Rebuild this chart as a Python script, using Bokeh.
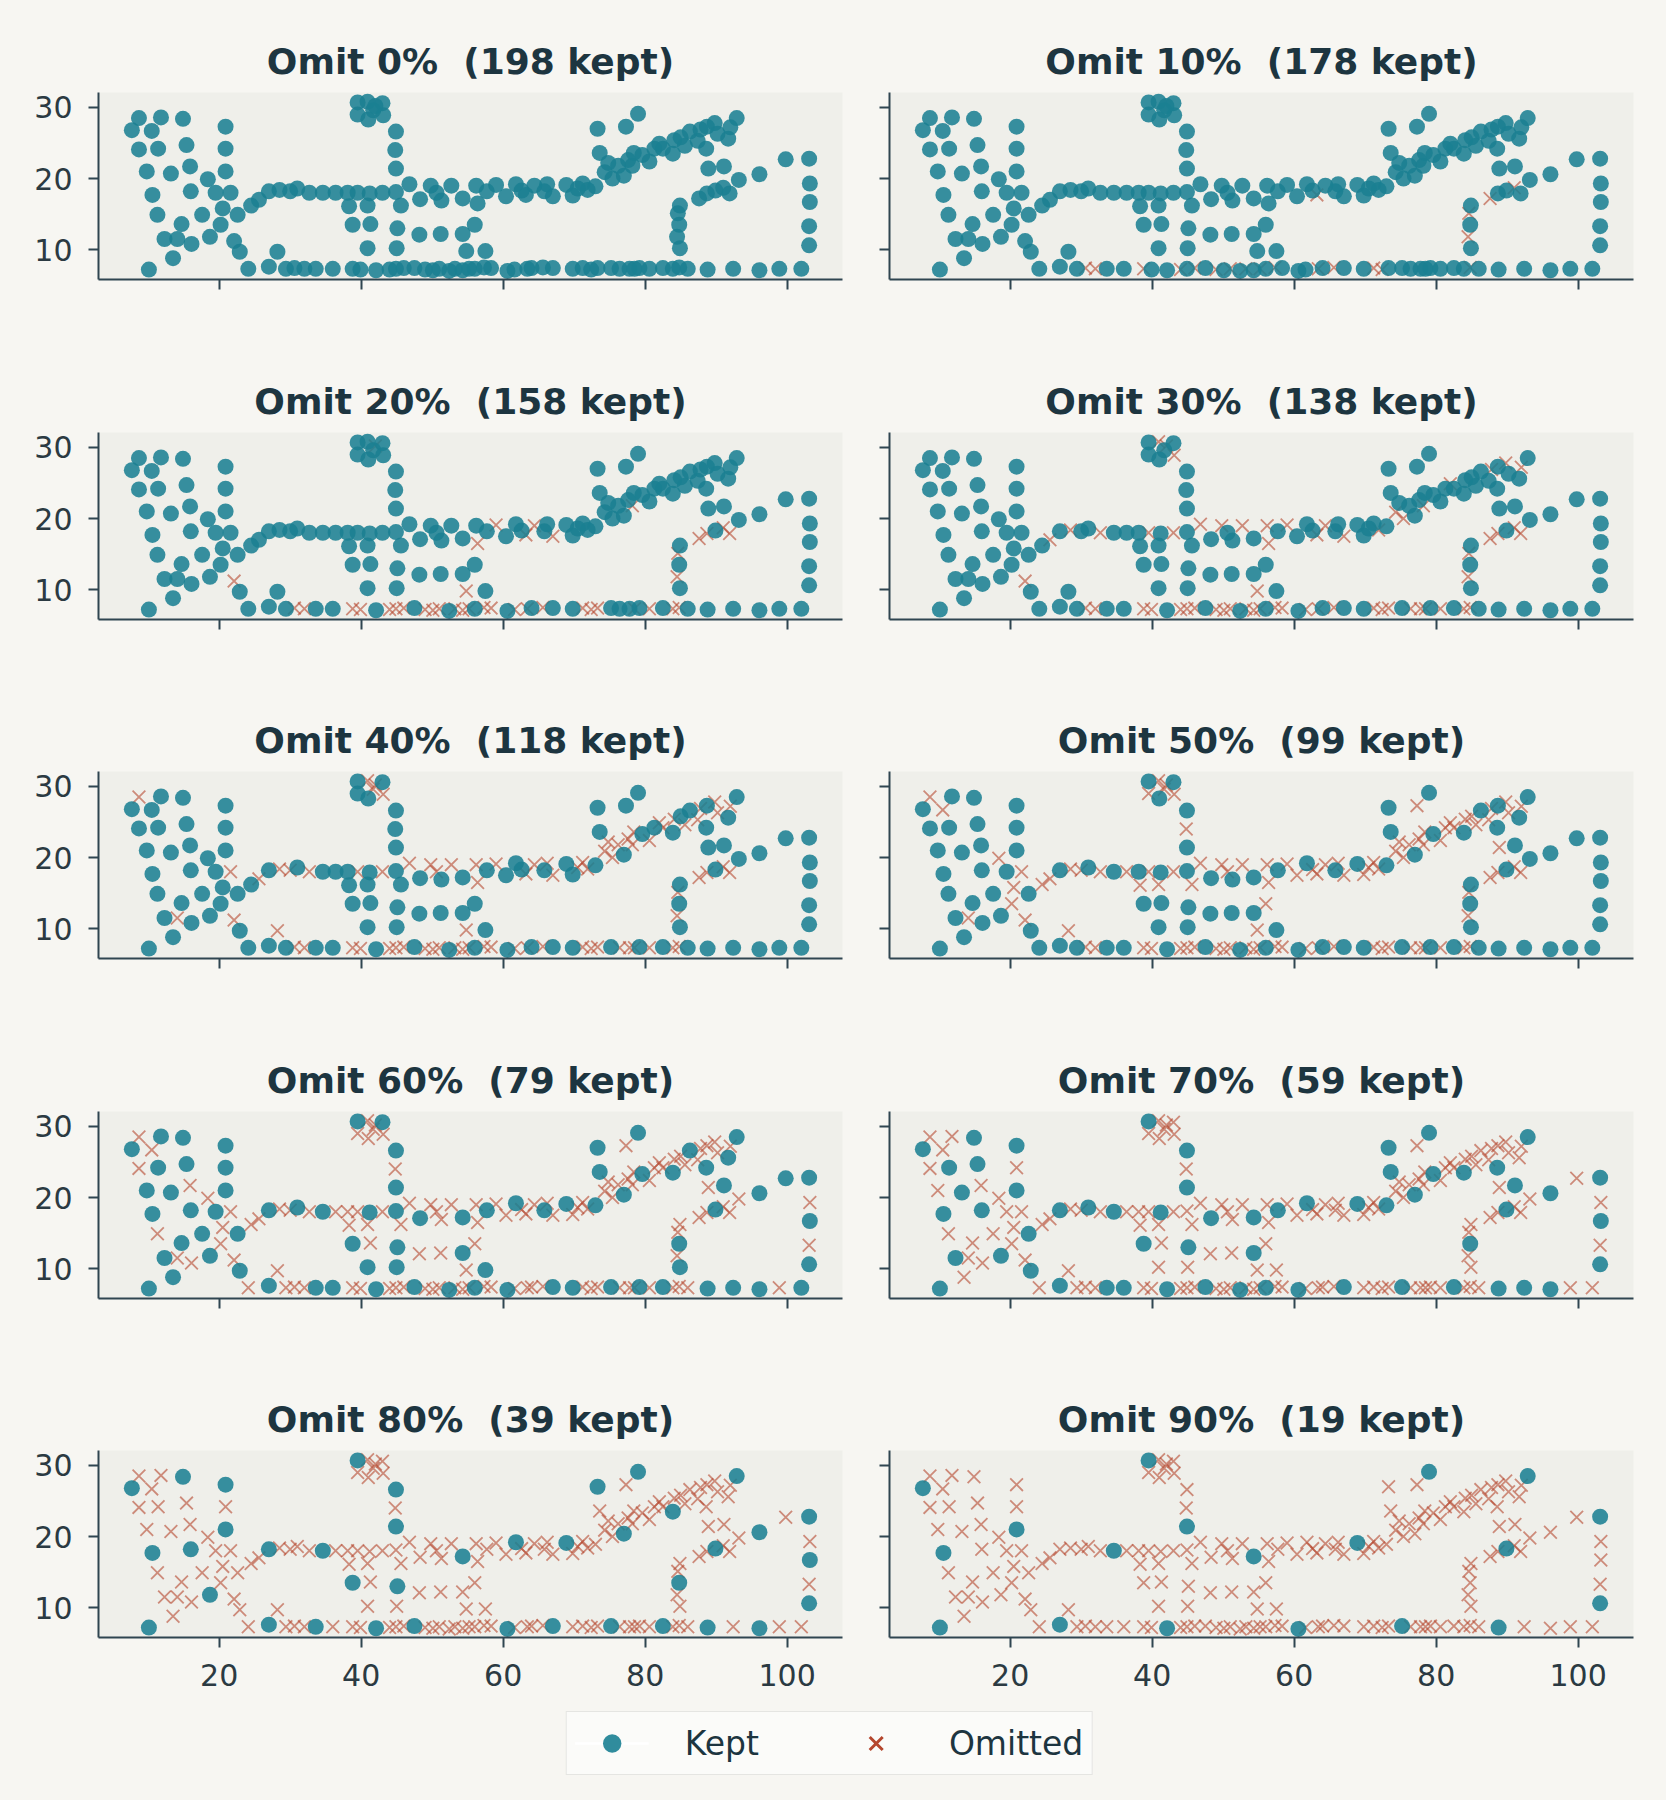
from bokeh.plotting import figure
from bokeh.layouts import column, row
from bokeh.models import ColumnDataSource, FixedTicker, Range1d, Legend, LegendItem
from bokeh.embed import file_html
from bokeh.resources import INLINE

# ------------------------------------------------------------------
# Data.  "drop" = the omit level (in %) at which
# a point is first shown as omitted; a point is kept while drop > level.
# ------------------------------------------------------------------
omit_levels = [0, 10, 20, 30, 40, 50, 60, 70, 80, 90]

# left scribble
scribble_x = [8.7, 7.7, 11.8, 10.5, 14.9, 20.9, 8.7, 11.4, 15.4, 20.9, 9.8, 13.2, 15.9, 20.9,
              18.4, 10.6, 16.0, 19.5, 21.6, 11.3, 17.6, 20.5, 22.6, 14.7, 12.3, 14.1, 16.1,
              18.7, 20.2, 13.5, 22.1, 22.9, 10.1]
scribble_y = [28.5, 26.8, 28.6, 26.7, 28.4, 27.3, 24.1, 24.2, 24.7, 24.2, 21.0, 20.7, 21.7, 21.0,
              19.9, 17.7, 18.2, 18.0, 18.0, 14.9, 14.9, 15.8, 14.9, 13.6, 11.5, 11.5, 10.8,
              11.8, 13.5, 8.8, 11.2, 9.7, 7.2]
scribble_drop = [40, 100, 70, 50, 90, 90, 60, 80, 80, 70, 70, 80, 60, 100,
                 50, 100, 90, 70, 40, 60, 70, 50, 80, 70, 80, 40, 60,
                 90, 50, 70, 20, 80, 100]

# long horizontal trace and rising diagonal band
trace_x = [24.5, 25.6, 27.0, 28.5, 30.0, 31.0, 32.7, 34.6, 36.4, 38.1, 39.5, 41.2, 43.0, 44.9,
           46.8, 48.3, 49.8, 51.3, 52.7, 54.3, 56.2, 56.4, 57.7, 59.0, 60.4, 61.8, 63.2, 64.4,
           65.8, 67.0, 66.2, 68.9, 69.8, 71.2, 71.9, 73.0, 74.3, 77.0, 75.4, 76.2, 78.2, 77.6,
           79.6, 80.6, 81.3, 82.5, 83.9, 84.1, 85.0, 85.6, 86.3, 88.6, 88.7, 89.8, 90.2, 91.7,
           92.0, 92.9, 74.8, 78.4, 82.0, 87.4, 87.8, 50.6, 62.6, 70.5]
trace_y = [16.2, 17.0, 18.2, 18.4, 18.2, 18.6, 18.0, 18.0, 18.0, 18.0, 18.0, 17.9, 18.0, 18.1,
           19.2, 17.1, 19.0, 16.9, 19.0, 17.2, 19.0, 16.5, 18.2, 19.1, 17.5, 19.2, 17.7, 19.0,
           18.2, 17.5, 19.2, 19.1, 17.6, 19.3, 18.4, 18.9, 20.9, 20.4, 20.0, 21.8, 21.8, 22.6,
           23.3, 22.4, 24.2, 24.2, 23.5, 25.4, 25.8, 24.6, 26.6, 24.2, 27.3, 27.8, 26.3, 25.6,
           27.2, 28.5, 22.2, 23.6, 24.9, 25.3, 26.9, 18.0, 18.3, 18.6]
trace_drop = [50, 30, 90, 30, 40, 80, 30, 100, 50, 60, 30, 80, 30, 70,
              30, 80, 30, 60, 30, 100, 30, 20, 80, 20, 50, 90, 10, 20,
              70, 20, 40, 100, 50, 40, 30, 80, 30, 90, 30, 40, 20, 40,
              80, 40, 50, 40, 90, 40, 50, 40, 70, 80, 60, 30, 40, 70,
              30, 100, 40, 40, 30, 40, 30, 40, 50, 40]

# cluster and stem near x = 40-45
tower_x = [39.5, 40.9, 43.0, 39.5, 41.7, 43.1, 41.0, 42.0, 44.9, 44.8, 44.9]
tower_y = [30.7, 30.8, 30.6, 29.0, 29.6, 28.9, 28.3, 30.2, 26.6, 24.0, 21.4]
tower_drop = [100, 30, 70, 50, 40, 30, 60, 20, 90, 50, 100]

# points under the trace
inner_x = [38.3, 40.9, 45.6, 38.8, 41.3, 45.1, 48.2, 51.2, 54.3, 56.0, 40.9, 45.0, 54.8, 57.5, 28.2]
inner_y = [16.1, 16.2, 16.2, 13.5, 13.6, 13.0, 12.1, 12.2, 12.2, 13.5, 10.2, 10.2, 9.8, 9.8, 9.7]
inner_drop = [50, 50, 50, 90, 60, 90, 60, 60, 80, 50, 70, 70, 20, 70, 40]

# right-hand shapes
right_x = [73.3, 73.6, 77.3, 79.0, 88.9, 91.1, 93.2, 96.1, 99.8, 103.1, 103.2, 103.2, 103.1,
           103.1, 87.6, 88.7, 89.9, 91.0, 91.9, 84.9, 84.6, 84.8, 84.9, 84.5]
right_y = [27.0, 23.6, 27.3, 29.1, 21.4, 21.7, 19.8, 20.6, 22.7, 22.8, 19.3, 16.7, 13.3,
           10.6, 17.2, 17.9, 18.3, 18.7, 17.9, 16.2, 15.1, 13.5, 10.2, 11.8]
right_drop = [90, 80, 50, 100, 50, 80, 60, 90, 70, 100, 60, 90, 60,
              100, 10, 20, 100, 10, 20, 60, 10, 90, 70, 10]

# bottom row
base_x = [24.1, 27.0, 29.4, 30.6, 32.0, 33.6, 36.0, 38.8, 39.9, 42.1, 44.0, 44.9, 46.0, 47.5,
          49.0, 50.1, 51.0, 52.4, 53.2, 54.3, 55.2, 56.0, 57.3, 58.3, 60.6, 61.6, 63.4, 64.0,
          65.6, 67.0, 69.8, 71.2, 72.4, 73.3, 75.2, 76.4, 77.8, 78.5, 79.2, 80.6, 82.5, 83.9,
          84.8, 86.0, 88.8, 92.4, 96.1, 98.9, 102.0]
base_y = [7.3, 7.6, 7.3, 7.4, 7.3, 7.3, 7.3, 7.3, 7.2, 7.1, 7.2, 7.3, 7.4, 7.4,
          7.2, 7.1, 7.3, 7.0, 7.3, 7.1, 7.3, 7.3, 7.5, 7.4, 7.0, 7.2, 7.3, 7.4,
          7.5, 7.4, 7.3, 7.4, 7.2, 7.4, 7.4, 7.3, 7.3, 7.3, 7.4, 7.3, 7.4, 7.3,
          7.5, 7.3, 7.2, 7.3, 7.1, 7.3, 7.3]
base_drop = [60, 100, 60, 10, 10, 90, 80, 10, 20, 100, 10, 20, 10, 90,
             10, 20, 10, 80, 10, 20, 10, 80, 10, 20, 100, 20, 10, 60,
             10, 90, 70, 10, 10, 20, 100, 30, 30, 20, 70, 20, 90, 20,
             10, 60, 100, 80, 90, 60, 70]

xs = scribble_x + trace_x + tower_x + inner_x + right_x + base_x
ys = scribble_y + trace_y + tower_y + inner_y + right_y + base_y
drops = scribble_drop + trace_drop + tower_drop + inner_drop + right_drop + base_drop

# ------------------------------------------------------------------
PAGE_BG = "#f7f6f2"
PANEL_BG = "#efefea"
INK = "#1d3540"
SPINE = "#2f4550"
KEPT_COLOR = "#1a7f92"
OMIT_COLOR = "#b5472e"
FONT = "DejaVu Sans"

FRAME_W, FRAME_H = 744, 187
TOP = 92
ROW_H = [340, 339, 340, 339]


def make_panel(level, col, r):
    last = (r == 4)
    kx, ky, ox, oy = [], [], [], []
    for x, y, d in zip(xs, ys, drops):
        if d > level:
            kx.append(x); ky.append(y)
        else:
            ox.append(x); oy.append(y)
    left = 98 if col == 0 else 25
    right = 22 if col == 0 else 25
    bottom = 72 if last else ROW_H[r] - TOP - FRAME_H
    p = figure(width=left + FRAME_W + right, height=TOP + FRAME_H + bottom,
               x_range=Range1d(3.0, 107.8), y_range=Range1d(5.8, 32.1),
               output_backend="svg", toolbar_location=None,
               min_border_left=left, min_border_right=right,
               min_border_top=TOP, min_border_bottom=bottom,
               title=f"Omit {level}%\u00a0 ({len(kx)} kept)")
    p.background_fill_color = PANEL_BG
    p.border_fill_color = PAGE_BG
    p.outline_line_color = None
    p.xgrid.visible = False
    p.ygrid.visible = False

    p.title.align = "center"
    p.title.text_font = FONT
    p.title.text_font_style = "bold"
    p.title.text_font_size = "36px"
    p.title.text_color = INK
    p.title.standoff = 21

    p.xaxis.ticker = FixedTicker(ticks=[20, 40, 60, 80, 100])
    p.yaxis.ticker = FixedTicker(ticks=[10, 20, 30])
    for ax in (p.xaxis[0], p.yaxis[0]):
        ax.axis_line_color = SPINE
        ax.axis_line_width = 2
        ax.major_tick_line_color = SPINE
        ax.major_tick_line_width = 2
        ax.major_tick_out = 10
        ax.major_tick_in = 0
        ax.minor_tick_line_color = None
        ax.major_label_text_font = FONT
        ax.major_label_text_font_size = "30px"
        ax.major_label_text_color = "#2b3a42"
    p.xaxis.major_label_standoff = 16
    p.yaxis.major_label_standoff = 16
    if not last:
        p.xaxis.major_label_text_font_size = "0px"
        p.xaxis.major_label_text_color = None
        p.xaxis.major_label_standoff = 0
    if col == 1:
        p.yaxis.major_label_text_font_size = "0px"
        p.yaxis.major_label_text_color = None
        p.yaxis.major_label_standoff = 0

    om = ColumnDataSource(dict(x=ox, y=oy))
    kp = ColumnDataSource(dict(x=kx, y=ky))
    p.scatter(x="x", y="y", source=om, marker="x", size=18,
              line_color=OMIT_COLOR, line_alpha=0.6, line_width=1.8)
    p.scatter(x="x", y="y", source=kp, marker="circle", size=16,
              fill_color=KEPT_COLOR, fill_alpha=0.87, line_color=None)
    return p


rows = []
for r in range(5):
    rows.append(row(make_panel(omit_levels[2 * r], 0, r),
                    make_panel(omit_levels[2 * r + 1], 1, r), spacing=0))

# legend strip (dummy renderers sit outside the visible range)
lg = figure(width=1658, height=80, x_range=Range1d(0, 1), y_range=Range1d(0, 1),
            x_axis_type=None, y_axis_type=None, output_backend="svg",
            toolbar_location=None, min_border=0)
lg.background_fill_color = PAGE_BG
lg.border_fill_color = PAGE_BG
lg.outline_line_color = None
r_line = lg.line(x=[-5, -4], y=[-5, -5], line_color="white", line_width=2.5)
r_dot = lg.scatter(x=[-5], y=[-5], marker="circle", size=18, fill_color=KEPT_COLOR,
                   fill_alpha=0.9, line_color=None)
r_x = lg.scatter(x=[-5], y=[-5], marker="x", size=20, line_color=OMIT_COLOR, line_width=3)
legend = Legend(items=[LegendItem(label="Kept", renderers=[r_line, r_dot]),
                       LegendItem(label="Omitted", renderers=[r_x])],
                orientation="horizontal", location="top_center", margin=2,
                padding=8, spacing=80, glyph_width=74, glyph_height=46,
                label_standoff=36,
                label_text_font=FONT, label_text_font_size="33px", label_text_color=INK,
                background_fill_color="#fbfbf9", background_fill_alpha=1.0,
                border_line_color="#cfcfcc", border_line_width=1.5)
lg.add_layout(legend, "center")

layout = column(*rows, lg, spacing=0)

html = file_html(layout, INLINE)
html = html.replace("</head>", "<style>html, body { background-color: #f7f6f2; }</style></head>", 1)
open("out.html", "w").write(html)
